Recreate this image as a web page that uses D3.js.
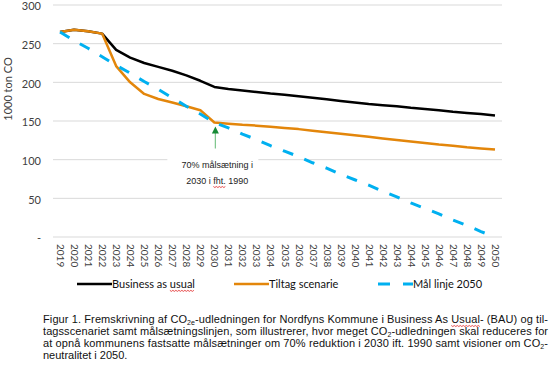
<!DOCTYPE html>
<html>
<head>
<meta charset="utf-8">
<script src="https://cdn.jsdelivr.net/npm/d3@7"></script>
<style>
  body { margin: 0; background: #fff; }
  svg { display: block; }
</style>
</head>
<body>
<svg id="chart" width="560" height="374"></svg>
<script>
// years on the category axis
var years = [2019, 2020, 2021, 2022, 2023, 2024, 2025, 2026, 2027, 2028, 2029, 2030,
  2031, 2032, 2033, 2034, 2035, 2036, 2037, 2038, 2039, 2040, 2041, 2042, 2043,
  2044, 2045, 2046, 2047, 2048, 2049, 2050];

// 1000 ton CO2
var bau = [265, 268, 266, 263, 242, 232, 225, 220, 215, 209, 202, 194,
  191.5, 189.5, 187.5, 185.5, 184, 182, 180, 178, 176, 174, 172, 170.5, 169,
  167, 165.5, 164, 162, 160.5, 159, 157];
var tiltag = [265, 268, 266, 263, 221, 200, 185, 178.5, 174, 169, 164, 148,
  146.5, 145, 144, 142.5, 141, 139.5, 137.5, 135.5, 133.5, 131.5, 129.5, 127.5, 125.5,
  123.5, 121.5, 119.5, 118, 116, 114.5, 113];
var maal = [265, 254, 244, 233, 222, 212, 201, 191, 180, 169, 159, 148,
  141, 133, 126, 118, 111, 104, 96, 89, 81, 74, 67, 59, 52,
  44, 37, 30, 22, 15, 7, 0];

var seriesNames = ["Business as usual", "Tiltag scenarie", "Mål linje 2050"];
var yTicks = [0, 50, 100, 150, 200, 250, 300];
var yTitle = "1000 ton CO";
var noteLines = ["70% målsætning i", "2030 i fht. 1990"];
var noteYear = 2030;

var svg = d3.select("#chart");

var x = d3.scalePoint().domain(years).range([53, 502]).padding(0.5);
var y = d3.scaleLinear().domain([0, 300]).range([237, 5]);

// gridlines
svg.append("g")
  .selectAll("line")
  .data(yTicks)
  .enter().append("line")
  .attr("x1", 53).attr("x2", 502)
  .attr("y1", d => y(d)).attr("y2", d => y(d))
  .attr("stroke", "#d9d9d9").attr("stroke-width", 1);

// y axis labels
var yAxis = d3.axisLeft(y).tickValues(yTicks).tickSize(0).tickPadding(12)
  .tickFormat(d => d === 0 ? "-" : d);
svg.append("g")
  .attr("transform", "translate(53,0)")
  .call(yAxis)
  .call(g => g.select(".domain").remove())
  .selectAll("text")
  .attr("font-family", "Lato, 'Open Sans', sans-serif")
  .attr("font-size", 11)
  .attr("fill", "#404040")
  .attr("dy", "0.45em");

// x axis labels, rotated
var xAxis = d3.axisBottom(x).tickSize(0).tickPadding(0);
svg.append("g")
  .attr("transform", "translate(0,237)")
  .call(xAxis)
  .call(g => g.select(".domain").remove())
  .selectAll("text")
  .attr("font-family", "Lato, 'Open Sans', sans-serif")
  .attr("font-size", 10)
  .attr("fill", "#404040")
  .attr("text-anchor", "start")
  .attr("dy", "0.35em")
  .attr("transform", "translate(0,7) rotate(90)");

// y title
svg.append("text")
  .attr("transform", "translate(12,89) rotate(-90)")
  .attr("text-anchor", "middle")
  .attr("font-family", "Lato, 'Open Sans', sans-serif")
  .attr("font-size", 11)
  .attr("fill", "#404040")
  .text(yTitle);

// annotation box and text
var nx = x(noteYear) + 3;
svg.append("rect")
  .attr("x", nx - 50).attr("y", 151)
  .attr("width", 91).attr("height", 40)
  .attr("fill", "#fff");
var note = svg.append("g");
noteLines.forEach(function(t, i) {
  note.append("text")
    .attr("x", nx).attr("y", 168 + i * 16)
    .attr("text-anchor", "middle")
    .attr("font-family", "'Liberation Sans', Arial, sans-serif")
    .attr("font-size", 9)
    .attr("fill", "#222")
    .text(t);
});

// lines
var line = d3.line()
  .x((d, i) => x(years[i]))
  .y(d => y(d));

var styles = [
  { data: bau, color: "#000000", width: 2.5, dash: null },
  { data: tiltag, color: "#E3860B", width: 2.5, dash: null },
  { data: maal, color: "#00B0F0", width: 3, dash: "11,12" }
];

svg.append("g")
  .selectAll("path")
  .data(styles)
  .enter().append("path")
  .attr("d", d => line(d.data))
  .attr("fill", "none")
  .attr("stroke", d => d.color)
  .attr("stroke-width", d => d.width)
  .attr("stroke-dasharray", d => d.dash)
  .attr("stroke-linejoin", "round");

// arrow pointing at 2030 target
var ax = x(noteYear) + 1, tipY = y(tiltag[years.indexOf(noteYear)]) + 4;
svg.append("line")
  .attr("x1", ax).attr("x2", ax)
  .attr("y1", tipY + 5).attr("y2", tipY + 22)
  .attr("stroke", "#7cc58a").attr("stroke-width", 1.2);
svg.append("path")
  .attr("d", "M" + ax + "," + tipY + "l-3.5,7h7z")
  .attr("fill", "#168a35");

// legend
var legendX = [77, 234, 378];
var legend = svg.append("g").attr("transform", "translate(0,284)");
styles.forEach(function(s, i) {
  var lx = legendX[i];
  legend.append("line")
    .attr("x1", lx).attr("x2", lx + 35)
    .attr("y1", 0).attr("y2", 0)
    .attr("stroke", s.color)
    .attr("stroke-width", s.width)
    .attr("stroke-dasharray", s.dash ? "12,13" : null);
  legend.append("text")
    .attr("x", lx + 35)
    .attr("y", 0).attr("dy", "0.35em")
    .attr("font-family", "Lato, 'Open Sans', sans-serif")
    .attr("font-size", 11)
    .attr("fill", "#111")
    .text(seriesNames[i]);
});

// red squiggle (spell-check mark) under characters of a text node
function squiggle(textEl, start, len, parent) {
  var p0 = textEl.getStartPositionOfChar(start);
  var p1 = textEl.getEndPositionOfChar(start + len - 1);
  var yy = p0.y + 2.5, d = "M" + p0.x + "," + yy, k = 0;
  for (var xx = p0.x + 1.5; xx <= p1.x; xx += 1.5) {
    k++;
    d += "L" + xx + "," + (yy + (k % 2 ? 1 : 0));
  }
  (parent || svg).append("path").attr("d", d)
    .attr("fill", "none").attr("stroke", "#e02020").attr("stroke-width", 0.8);
}

var legText = legend.selectAll("text").nodes()[0];
squiggle(legText, seriesNames[0].indexOf("usual"), 5, legend);
var fht = note.selectAll("text").nodes()[1];
squiggle(fht, noteLines[1].indexOf("fht."), 4, null);

// caption
var caption = [
  [["Figur 1. Fremskrivning af CO"], ["2e", 1], ["-udledningen for Nordfyns Kommune i Business As Usual- (BAU) og til-"]],
  [["tagsscenariet samt målsætningslinjen, som illustrerer, hvor meget CO"], ["2", 1], ["-udledningen skal reduceres for"]],
  [["at opnå kommunens fastsatte målsætninger om 70% reduktion i 2030 ift. 1990 samt visioner om CO"], ["2", 1], ["-"]],
  [["neutralitet i 2050."]]
];
var capNodes = [];
caption.forEach(function(parts, i) {
  var t = svg.append("text")
    .attr("x", 43).attr("y", 323 + i * 12)
    .attr("font-family", "'Liberation Sans', Arial, sans-serif")
    .attr("font-size", 11)
    .attr("fill", "#111");
  parts.forEach(function(p, j) {
    var prevSub = j > 0 && parts[j - 1][1];
    t.append("tspan")
      .attr("font-size", p[1] ? 7 : 11)
      .attr("dy", p[1] ? 1.5 : (prevSub ? -1.5 : 0))
      .text(p[0]);
  });
  if (i < 3) t.attr("textLength", 505).attr("lengthAdjust", "spacing");
  capNodes.push(t.node());
});
var full1 = caption[0].map(p => p[0]).join("");
squiggle(capNodes[0], full1.indexOf("Usual"), 5, null);
</script>
</body>
</html>
